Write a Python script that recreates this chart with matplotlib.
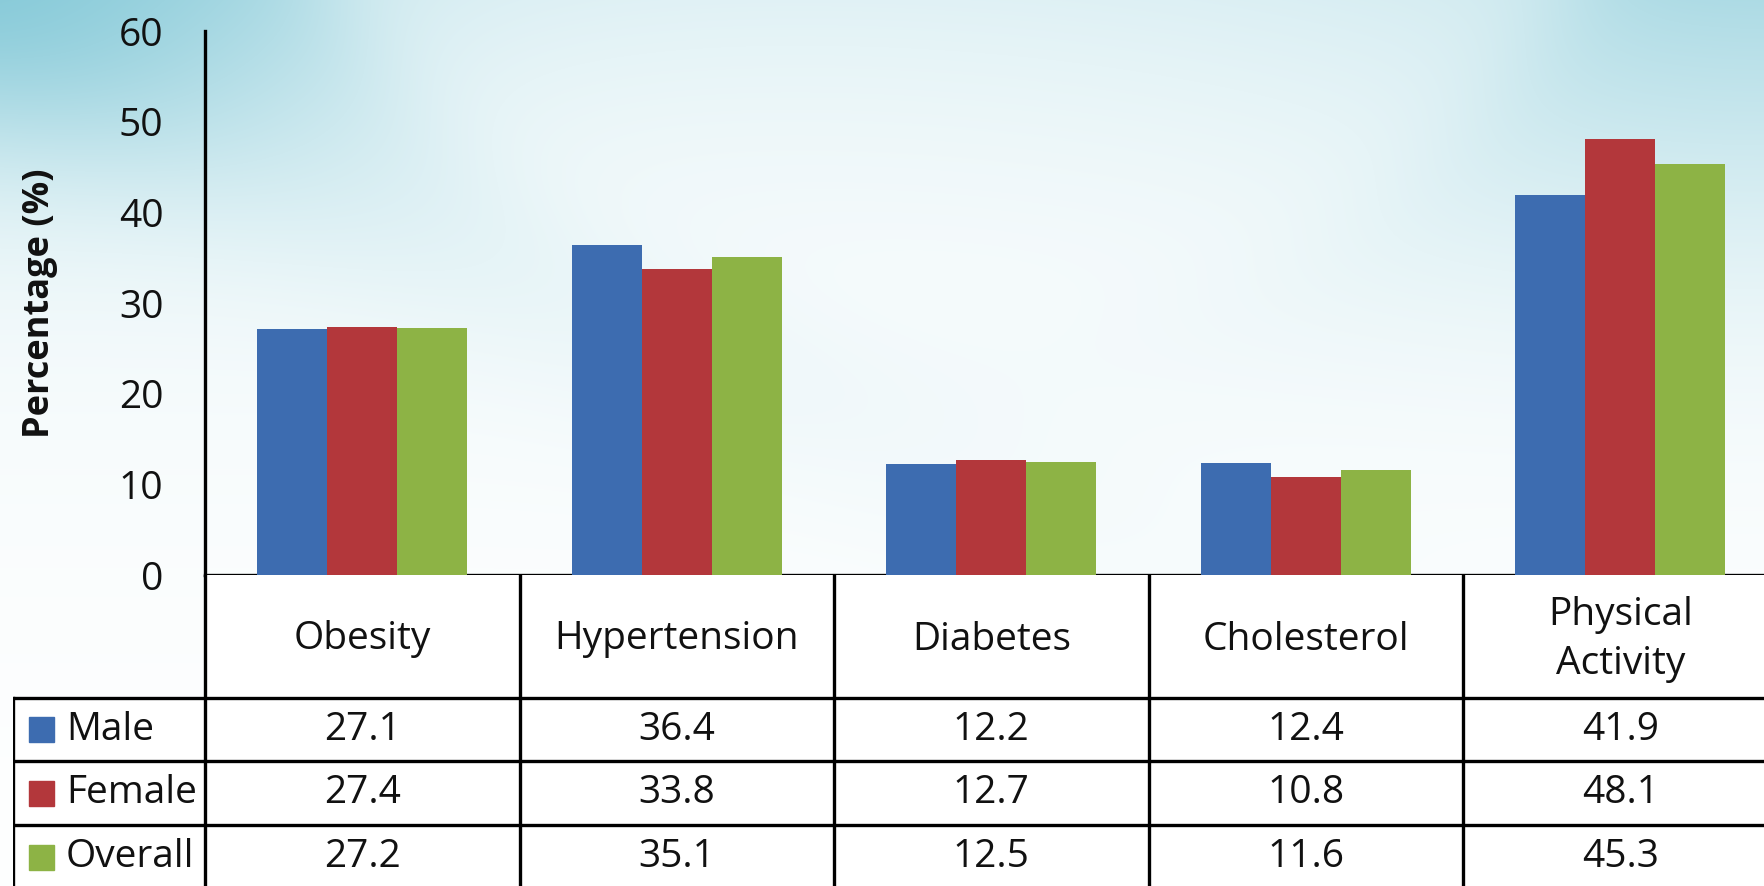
import numpy as np
import matplotlib
matplotlib.use("Agg")
import matplotlib.pyplot as plt

# Prevalence of risk factors by sex (%)
categories = ["Obesity", "Hypertension", "Diabetes", "Cholesterol", "Physical\nActivity"]
groups = ["Male", "Female", "Overall"]
male = [27.1, 36.4, 12.2, 12.4, 41.9]
female = [27.4, 33.8, 12.7, 10.8, 48.1]
overall = [27.2, 35.1, 12.5, 11.6, 45.3]
colors = ["#3D6CB0", "#B3373B", "#8DB345"]

plt.rcParams["font.family"] = ["Open Sans", "DejaVu Sans"]
text_color = "#111111"
fs = 28

W, H = 1764, 886
fig = plt.figure(figsize=(W / 100, H / 100), dpi=100)

# soft teal wash behind the chart
bg = fig.add_axes([0, 0, 1, 1], zorder=-10)
yy, xx = np.mgrid[0:H, 0:W]
a = 0.42 * np.exp(-yy / 230.0)
a += 0.40 * np.exp(-((xx / 380.0) ** 2 + (yy / 170.0) ** 2))
a += 0.22 * np.exp(-(((xx - W) / 520.0) ** 2 + (yy / 280.0) ** 2))
# faint diagonal swoosh on the left
band = np.abs((yy - 0.45 * xx) - 60) / 120.0
a += 0.12 * np.exp(-band ** 2) * np.exp(-yy / 400.0)
d = np.hypot(xx - 950, yy + 380)
inside = 1 / (1 + np.exp((d - 720) / 30.0))
a *= 1 - 0.45 * inside
a = np.clip(a, 0, 1)
teal = np.array([0.50, 0.78, 0.84])
img = 1 - a[..., None] * (1 - teal)
bg.imshow(img, extent=[0, W, H, 0], aspect="auto")
bg.set_xlim(0, W)
bg.set_ylim(H, 0)
bg.axis("off")

# pixel layout
x_axis_px = 575
top_px = 31
left_px = 205
col_w = 314.5
leg_left = 13
n = len(categories)

ax = fig.add_axes([left_px / W, (H - x_axis_px) / H,
                   n * col_w / W, (x_axis_px - top_px) / H])
ax.set_facecolor("none")
x = np.arange(n)
bw = 0.223
for i, (vals, c) in enumerate(zip([male, female, overall], colors)):
    ax.bar(x + (i - 1) * bw, vals, bw, color=c, zorder=3)

ax.set_xlim(-0.5, n - 0.5)
ax.set_ylim(0, 60)
ax.set_yticks(range(0, 61, 10))
ax.set_xticks([])
ax.tick_params(axis="y", length=0, pad=30, labelsize=fs, labelcolor=text_color)
for s in ["top", "right"]:
    ax.spines[s].set_visible(False)
for s in ["left", "bottom"]:
    ax.spines[s].set_linewidth(2.4)
    ax.spines[s].set_color("black")
ax.set_ylabel("Percentage (%)", fontsize=26, fontweight="bold", color=text_color)
ax.yaxis.set_label_coords(-(left_px - 58) / (n * col_w), 0.5)

# data table under the bars, x in category units, y in pixels below the axis
tab_h = H - x_axis_px
tab = fig.add_axes([leg_left / W, 0, (left_px + n * col_w - leg_left) / W, tab_h / H])
tab.set_xlim(-0.5 - (left_px - leg_left) / col_w, n - 0.5)
tab.set_ylim(tab_h, 0)
tab.axis("off")

row_edges = [0, 123, 186, 250, 314]
x0 = -0.5
xl = tab.get_xlim()[0]
lw = 2.4
# white cells
tab.fill_between([x0, n - 0.5], 0, tab_h, color="white", zorder=0)
tab.fill_between([xl, x0], row_edges[1], tab_h, color="white", zorder=0)
# horizontal rules
for yv in row_edges[1:]:
    tab.plot([xl, n - 0.5], [yv, yv], color="black", lw=lw, solid_capstyle="butt")
# vertical rules
for k in range(n + 1):
    tab.plot([x0 + k, x0 + k], [0, tab_h], color="black", lw=lw)
tab.plot([xl, xl], [row_edges[1], tab_h], color="black", lw=lw)

hdr_mid = (row_edges[0] + row_edges[1]) / 2 + 3
for k, cat in enumerate(categories):
    tab.text(k, hdr_mid, cat, ha="center", va="center", fontsize=fs,
             color=text_color, linespacing=1.4)

for r, (name, vals, c) in enumerate(zip(groups, [male, female, overall], colors)):
    ymid = (row_edges[r + 1] + row_edges[r + 2]) / 2
    sw = 25 / col_w
    sx = xl + 16 / col_w
    tab.add_patch(plt.Rectangle((sx, ymid - 12.5), sw, 25, color=c))
    tab.text(xl + 53 / col_w, ymid, name, ha="left", va="center", fontsize=fs, color=text_color)
    for k, v in enumerate(vals):
        tab.text(k, ymid, f"{v:.1f}", ha="center", va="center", fontsize=fs, color=text_color)

fig.savefig("out.png", dpi=100)
